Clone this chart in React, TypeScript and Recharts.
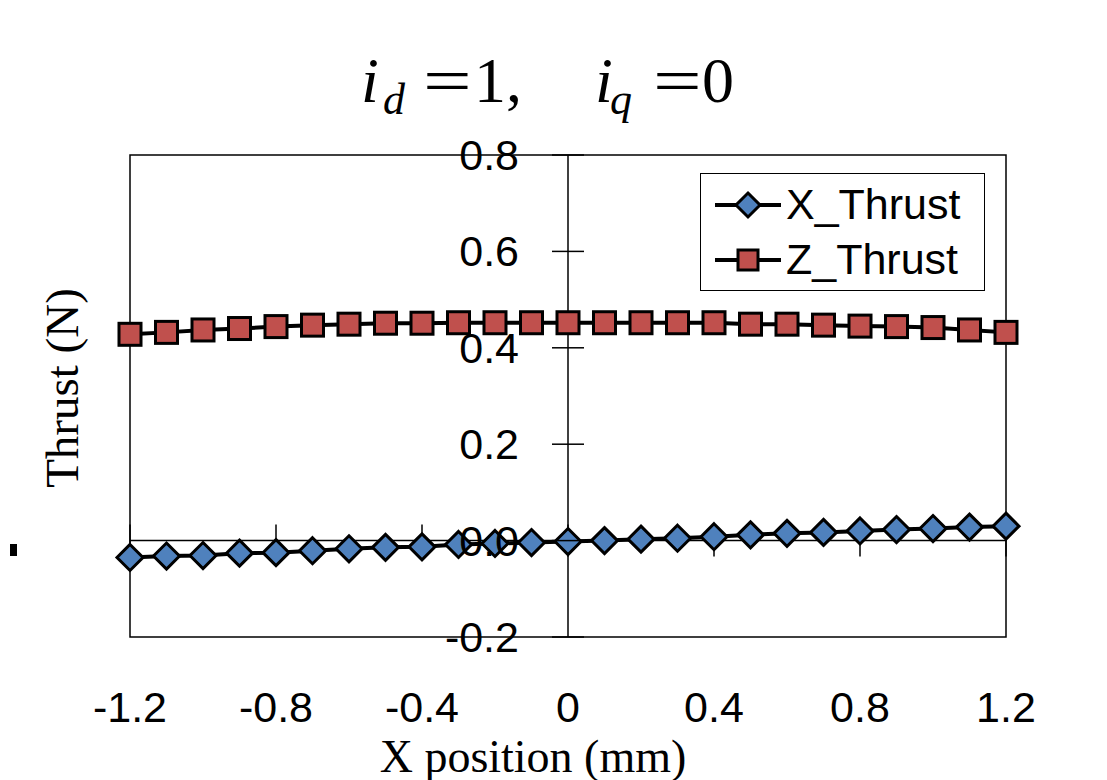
import React from 'react';
import {
    LineChart,
    Line,
    XAxis,
    YAxis,
    ReferenceLine,
    ReferenceArea,
} from 'recharts';

// X position (mm)
const xPositions = [
    -1.2, -1.1, -1.0, -0.9, -0.8, -0.7, -0.6, -0.5, -0.4, -0.3, -0.2, -0.1,
    0, 0.1, 0.2, 0.3, 0.4, 0.5, 0.6, 0.7, 0.8, 0.9, 1.0, 1.1, 1.2,
];
// Thrust (N)
const xThrust = [
    -0.035, -0.032, -0.031, -0.026, -0.025, -0.021, -0.017, -0.014, -0.013, -0.008, -0.006, -0.004,
    -0.002, 0.0, 0.003, 0.005, 0.008, 0.012, 0.015, 0.017, 0.02, 0.023, 0.025, 0.028, 0.03,
];
const zThrust = [
    0.428, 0.432, 0.437, 0.44, 0.444, 0.447, 0.449, 0.451, 0.451, 0.452, 0.452, 0.452,
    0.452, 0.452, 0.452, 0.452, 0.452, 0.449, 0.449, 0.447, 0.445, 0.444, 0.442, 0.437, 0.432,
];

const xTicks = [-1.2, -0.8, -0.4, 0, 0.4, 0.8, 1.2];
const yTicks = [-0.2, 0, 0.2, 0.4, 0.6, 0.8];

const chartData = xPositions.map((x, i) => ({ x, xThrust: xThrust[i], zThrust: zThrust[i] }));

const W = 1107;
const H = 780;
const margin = { top: 155, right: 101, left: 30, bottom: 43 };
const yAxisWidth = 100;
const xAxisHeight = 100;
const plotLeft = margin.left + yAxisWidth;
const plotWidth = W - plotLeft - margin.right;
const plotHeight = H - margin.top - margin.bottom - xAxisHeight;
const midX = plotLeft + plotWidth / 2;

// tick half-length in data units (16px)
const xTickHalf = 16 / plotHeight;

const SANS = '"Liberation Sans", Arial, sans-serif';
const SERIF = '"Liberation Serif", "Times New Roman", serif';

const BLUE = '#4F81BD';
const RED = '#C0504D';

function Diamond({ cx, cy, r = 13 }: { cx: number; cy: number; r?: number }) {
    return (
        <path
            d={`M${cx},${cy - r}L${cx + r},${cy}L${cx},${cy + r}L${cx - r},${cy}Z`}
            fill={BLUE}
            stroke="#000"
            strokeWidth={3}
        />
    );
}

function Square({ cx, cy, r = 11 }: { cx: number; cy: number; r?: number }) {
    return <rect x={cx - r} y={cy - r} width={r * 2} height={r * 2} fill={RED} stroke="#000" strokeWidth={3} />;
}

const renderYTick = (props: any) => {
    const { y, payload } = props;
    return (
        <g>
            <line x1={midX - 16} x2={midX + 16} y1={y} y2={y} stroke="#000" strokeWidth={1.5} />
            <text
                x={midX - 49}
                y={y}
                textAnchor="end"
                dominantBaseline="central"
                fontSize={43}
                fontFamily={SANS}
                fill="#000"
            >
                {Number(payload.value).toFixed(1)}
            </text>
        </g>
    );
};

const legendItems = [
    { name: 'X_Thrust', marker: 'diamond' },
    { name: 'Z_Thrust', marker: 'square' },
];

function ChartLegend() {
    return (
        <div
            style={{
                position: 'absolute',
                left: 700,
                top: 173,
                width: 259,
                border: '1.5px solid #000',
                background: '#fff',
                padding: '3px 12px 3px 12px',
                fontFamily: SANS,
                fontSize: 43,
                lineHeight: '55px',
            }}
        >
            {legendItems.map((item) => (
                <div key={item.name} style={{ display: 'flex', alignItems: 'center' }}>
                    <svg width={70} height={40} style={{ marginRight: 3 }}>
                        <line x1={2} x2={68} y1={20} y2={20} stroke="#000" strokeWidth={4} />
                        {item.marker === 'diamond' ? <Diamond cx={35} cy={20} r={12} /> : <Square cx={35} cy={20} r={10} />}
                    </svg>
                    <span>{item.name}</span>
                </div>
            ))}
        </div>
    );
}

export default function App() {
    return (
        <div style={{ position: 'relative', width: W, height: H, background: '#fff', overflow: 'hidden' }}>
            <style>{`body{margin:0;}`}</style>
            <LineChart width={W} height={H} data={chartData} margin={margin}>
                <ReferenceArea
                    x1={-1.2}
                    x2={1.2}
                    y1={-0.2}
                    y2={0.8}
                    fill="none"
                    fillOpacity={0}
                    stroke="#000"
                    strokeWidth={1.5}
                    ifOverflow="visible"
                />
                <ReferenceLine y={0} stroke="#000" strokeWidth={1.5} />
                <ReferenceLine x={0} stroke="#000" strokeWidth={1.5} />
                {xTicks.map((t) => (
                    <ReferenceLine
                        key={`xt${t}`}
                        segment={[
                            { x: t, y: -xTickHalf },
                            { x: t, y: xTickHalf },
                        ]}
                        stroke="#000"
                        strokeWidth={1.5}
                    />
                ))}
                <XAxis
                    dataKey="x"
                    type="number"
                    domain={[-1.2, 1.2]}
                    ticks={xTicks}
                    height={xAxisHeight}
                    axisLine={false}
                    tickLine={false}
                    tickMargin={48}
                    tick={{ fill: '#000', fontSize: 43, fontFamily: SANS }}
                    tickFormatter={(v: number) => (v === 0 ? '0' : v.toFixed(1))}
                    interval={0}
                />
                <YAxis
                    type="number"
                    domain={[-0.2, 0.8]}
                    ticks={yTicks}
                    width={yAxisWidth}
                    axisLine={false}
                    tickLine={false}
                    tick={renderYTick}
                    interval={0}
                />
                <Line
                    dataKey="xThrust"
                    name="X_Thrust"
                    stroke="#000"
                    strokeWidth={4}
                    isAnimationActive={false}
                    dot={(p: any) => <Diamond key={`d${p.index}`} cx={p.cx} cy={p.cy} />}
                />
                <Line
                    dataKey="zThrust"
                    name="Z_Thrust"
                    stroke="#000"
                    strokeWidth={4}
                    isAnimationActive={false}
                    dot={(p: any) => <Square key={`s${p.index}`} cx={p.cx} cy={p.cy} />}
                />
            </LineChart>
            <ChartLegend />
            <svg
                width={W}
                height={H}
                style={{ position: 'absolute', left: 0, top: 0, pointerEvents: 'none' }}
            >
                <g fontFamily={SERIF} fill="#000">
                    <text x={361} y={102} fontSize={64} fontStyle="italic">i</text>
                    <text x={383} y={114} fontSize={44} fontStyle="italic">d</text>
                    <text transform="translate(423 102) scale(1.35 1)" fontSize={64}>=</text>
                    <text x={474} y={102} fontSize={64}>1,</text>
                    <text x={595} y={102} fontSize={64} fontStyle="italic">i</text>
                    <text x={610} y={114} fontSize={44} fontStyle="italic">q</text>
                    <text transform="translate(653 102) scale(1.35 1)" fontSize={64}>=</text>
                    <text x={702} y={102} fontSize={64}>0</text>
                    <text x={533} y={772} fontSize={46} textAnchor="middle">X position (mm)</text>
                    <text x={78} y={388} fontSize={47} textAnchor="middle" transform="rotate(-90 78 388)">
                        Thrust (N)
                    </text>
                </g>
                <rect x={10} y={544} width={7} height={12} fill="#000" />
            </svg>
        </div>
    );
}
